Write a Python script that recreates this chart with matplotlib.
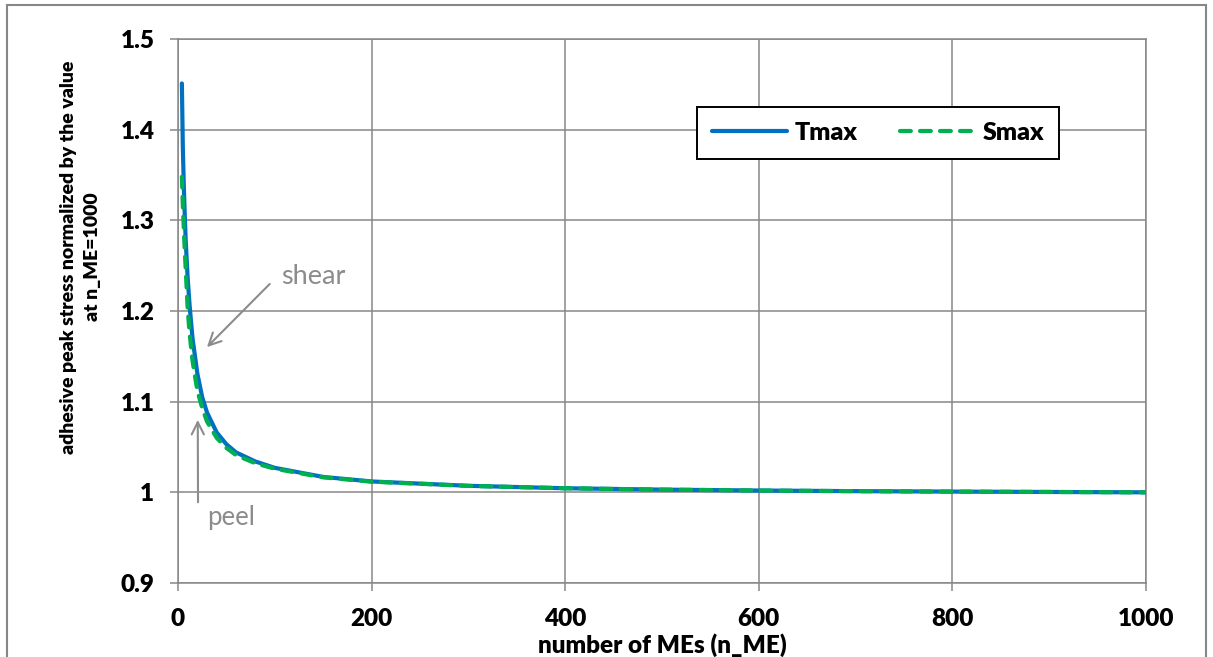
import matplotlib
matplotlib.use('Agg')
import matplotlib.pyplot as plt
from matplotlib.patches import Rectangle
from matplotlib.ticker import FuncFormatter

# values
n_me = [4, 5, 6, 7, 8, 10, 12, 15, 20, 25, 30, 40, 50, 60, 80, 100,
        150, 200, 300, 400, 500, 600, 700, 800, 900, 1000]
tmax = [1.451, 1.380, 1.338, 1.305, 1.277, 1.236, 1.206, 1.170, 1.131, 1.105,
        1.088, 1.066, 1.053, 1.044, 1.034, 1.027, 1.017, 1.012, 1.0072, 1.0045,
        1.003, 1.002, 1.0013, 1.0008, 1.0004, 1.0]
smax = [1.348, 1.316, 1.290, 1.266, 1.245, 1.202, 1.175, 1.145, 1.112, 1.093,
        1.078, 1.060, 1.049, 1.041, 1.032, 1.026, 1.0165, 1.0118, 1.0071, 1.0045,
        1.003, 1.002, 1.0013, 1.0008, 1.0004, 1.0]

x_ticks = [0, 200, 400, 600, 800, 1000]
y_ticks = [0.9, 1.0, 1.1, 1.2, 1.3, 1.4, 1.5]

GRID = '#878787'
BLUE = '#0070C0'
GREEN = '#00B050'
NOTE = '#8C8C8C'

plt.rcParams['font.family'] = ['Lato', 'DejaVu Sans']

fig = plt.figure(figsize=(12.13, 6.57), dpi=100)
W, H = 1213, 657
ax = fig.add_axes([178 / W, 1 - 583 / H, (1146 - 178) / W, (583 - 39) / H])

ax.plot(n_me, tmax, color=BLUE, lw=3.0, solid_capstyle='round', label='Tmax', zorder=3)
ax.plot(n_me, smax, color=GREEN, lw=3.0, dashes=(2.6, 2.2), dash_capstyle='round',
        label='Smax', zorder=4)

ax.set_xlim(0, 1000)
ax.set_ylim(0.9, 1.5)
ax.set_xticks(x_ticks)
ax.set_yticks(y_ticks)
ax.yaxis.set_major_formatter(FuncFormatter(lambda v, p: f'{v:g}'))
ax.grid(True, color=GRID, lw=1.1)
ax.set_axisbelow(True)
for s in ax.spines.values():
    s.set_color(GRID)
    s.set_linewidth(1.1)
ax.tick_params(axis='both', colors=GRID, length=6, width=1.1, labelcolor='black',
               labelsize=17.5)
ax.tick_params(axis='y', pad=11)
ax.tick_params(axis='x', pad=12)
for lab in ax.get_xticklabels() + ax.get_yticklabels():
    lab.set_fontweight('heavy')

ax.set_xlabel('number of MEs (n_ME)', fontsize=17.5, fontweight='heavy', va='center')
ax.xaxis.set_label_coords(0.5, -0.114)
ax.set_ylabel('adhesive peak stress normalized by the value\nat n_ME=1000', fontsize=14,
              fontweight='heavy', va='center', ha='center', multialignment='center',
              linespacing=1.5)
ax.yaxis.set_label_coords(-0.101, 0.599)

# annotations
ax.annotate('', xy=(27.9, 1.158), xytext=(96.8, 1.232),
            arrowprops=dict(arrowstyle='->', color=NOTE, lw=1.5, mutation_scale=22))
ax.text(107, 1.238, 'shear', fontsize=19.5, color=NOTE, ha='left', va='center')
ax.annotate('', xy=(20.4, 1.083), xytext=(20.7, 0.986),
            arrowprops=dict(arrowstyle='->', color=NOTE, lw=1.5, mutation_scale=22))
ax.text(30, 0.972, 'peel', fontsize=18.5, color=NOTE, ha='left', va='center')

leg = ax.legend(loc='center', bbox_to_anchor=(0.536, 0.767, 0.374, 0.121), mode='expand',
                ncol=2, frameon=True, fancybox=False, edgecolor='black', framealpha=1,
                handlelength=3.0, handletextpad=0.3, columnspacing=1.6, borderpad=0.6,
                borderaxespad=0.0, prop={'size': 18, 'weight': 'heavy'})
leg.get_frame().set_linewidth(1.4)

# outer chart border
fig.add_artist(Rectangle((7 / W, -0.02), (1206 - 7) / W, 1.02 - 5 / H,
                         transform=fig.transFigure, fill=False, edgecolor=GRID, lw=1.5))

plt.savefig('out.png', dpi=100)
